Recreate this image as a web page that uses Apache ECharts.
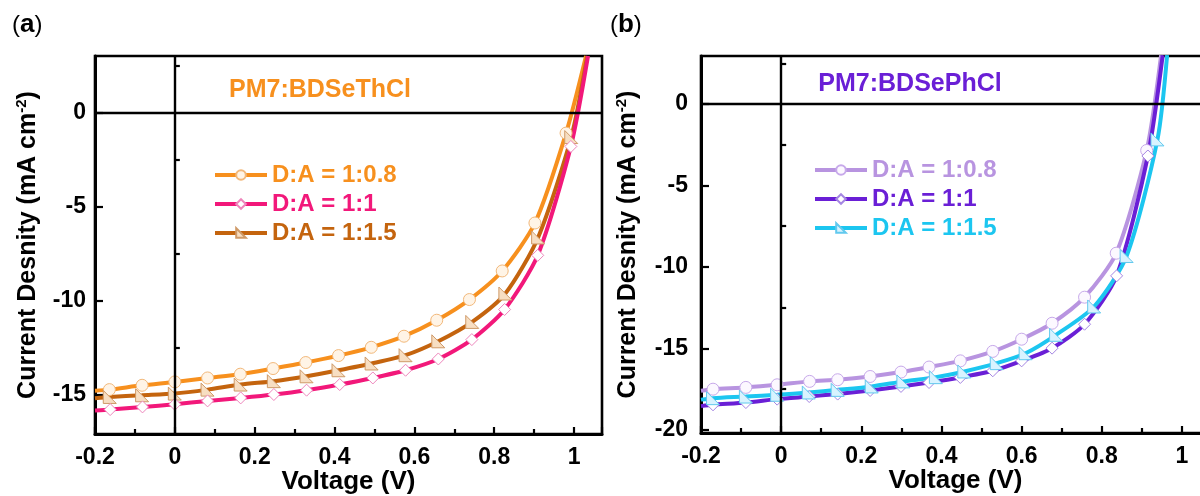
<!DOCTYPE html>
<html>
<head>
<meta charset="utf-8">
<script src="https://cdn.jsdelivr.net/npm/echarts@6/dist/echarts.min.js"></script>
<style>html,body{margin:0;padding:0;background:#fff}#c{width:1200px;height:496px}</style>
</head>
<body>
<div id="c"></div>
<script>
// ---------- data (Voltage V, Current density mA cm^-2) ----------
const legendLabels = ['D:A = 1:0.8', 'D:A = 1:1', 'D:A = 1:1.5'];
const xTickStep = 0.2;
const xTickLabels = [-0.2, 0, 0.2, 0.4, 0.6, 0.8, 1];
const yTicksA = [-15, -10, -5, 0];
const yMinorA = [-12.5, -7.5, -2.5, 2.5];
const yTicksB = [-20, -15, -10, -5, 0];
const yMinorB = [-17.5, -12.5, -7.5, -2.5, 2.5];

// panel (a) PM7:BDSeThCl  (first and last points are curve ends without markers)
const a08 = [[-0.2,-14.8],[-0.164,-14.74],[-0.082,-14.51],[0,-14.33],[0.082,-14.12],[0.164,-13.92],[0.246,-13.62],[0.328,-13.30],[0.41,-12.93],[0.492,-12.49],[0.574,-11.90],[0.656,-11.05],[0.738,-9.95],[0.82,-8.43],[0.902,-5.88],[0.98,-1.10],[1.03,3.0]];
const a10 = [[-0.2,-15.85],[-0.162,-15.80],[-0.081,-15.66],[0,-15.52],[0.082,-15.34],[0.165,-15.18],[0.248,-15.00],[0.33,-14.77],[0.413,-14.47],[0.496,-14.12],[0.578,-13.71],[0.66,-13.11],[0.744,-12.08],[0.826,-10.48],[0.909,-7.60],[0.992,-1.81],[1.035,3.0]];
const a15 = [[-0.2,-15.2],[-0.163,-15.13],[-0.082,-15.04],[0,-14.95],[0.082,-14.74],[0.165,-14.47],[0.248,-14.29],[0.33,-14.03],[0.41,-13.71],[0.493,-13.35],[0.578,-12.91],[0.66,-12.17],[0.745,-11.14],[0.828,-9.63],[0.91,-6.65],[0.993,-1.31],[1.033,3.0]];
// panel (b) PM7:BDSePhCl
const b08 = [[-0.2,-17.6],[-0.170,-17.51],[-0.088,-17.40],[-0.010,-17.24],[0.071,-17.03],[0.141,-16.93],[0.222,-16.73],[0.299,-16.46],[0.369,-16.15],[0.447,-15.77],[0.528,-15.19],[0.600,-14.44],[0.676,-13.46],[0.757,-11.86],[0.836,-9.16],[0.912,-2.85],[0.948,3.0]];
const b10 = [[-0.2,-18.55],[-0.170,-18.47],[-0.088,-18.33],[-0.010,-18.12],[0.07,-17.96],[0.141,-17.81],[0.222,-17.59],[0.299,-17.34],[0.369,-17.10],[0.447,-16.79],[0.528,-16.38],[0.600,-15.77],[0.676,-14.99],[0.757,-13.52],[0.837,-10.55],[0.915,-3.19],[0.952,3.0]];
const b15 = [[-0.2,-18.15],[-0.170,-18.06],[-0.088,-17.96],[-0.010,-17.85],[0.069,-17.71],[0.141,-17.55],[0.226,-17.34],[0.305,-17.03],[0.386,-16.77],[0.457,-16.42],[0.538,-15.91],[0.610,-15.30],[0.686,-14.17],[0.781,-12.43],[0.862,-9.33],[0.939,-2.17],[0.963,3.0]];

// ---------- styles ----------
const FONT = '"Liberation Sans", Arial, sans-serif';
const TRI = 'path://M0,0L0,10L11,10Z';
const DIA = 'diamond';

function pts(arr){
  return arr.map((p,i)=> (i===0 || i===arr.length-1) ? {value:p, symbol:'none'} : p);
}
function ser(id, data, xi, color, lw, symbol, size, fill, border, extra){
  const s = {
    id: id, name: id, type:'line', xAxisIndex:xi, yAxisIndex: xi===0 ? 0 : 2,
    data: pts(data), smooth:0.25,
    symbol: symbol, symbolSize: size, showAllSymbol:true,
    lineStyle:{color:color, width:lw},
    itemStyle:{color:fill, borderColor:border, borderWidth:1},
    emphasis:{disabled:true}, clip:true, z:3
  };
  return Object.assign(s, extra||{});
}
const zeroLines = {
  silent:true, symbol:['none','none'], label:{show:false},
  lineStyle:{color:'#000', width:2.4, type:'solid'},
  data:[{xAxis:0},{yAxis:0}]
};

const nameMap = {a08:legendLabels[0], a10:legendLabels[1], a15:legendLabels[2],
                 b08:legendLabels[0], b10:legendLabels[1], b15:legendLabels[2]};

function xAx(gi){
  return {
    type:'value', gridIndex:gi, min:-0.2, max:1.07, interval:xTickStep,
    axisLine:{onZero:false, lineStyle:{color:'#000', width:3}},
    axisTick:{inside:true, length:7, lineStyle:{color:'#000', width:2.2}},
    minorTick:{show:true, splitNumber:2, length:5, lineStyle:{color:'#000', width:2.2}},
    splitLine:{show:false}, minorSplitLine:{show:false},
    axisLabel:{customValues:xTickLabels, color:'#000', fontSize:23, fontWeight:'bold', fontFamily:FONT, margin:12},
    name:'Voltage (V)', nameLocation:'middle', nameGap:35, nameMoveOverlap:false,
    nameTextStyle:{color:'#000', fontSize:26, fontWeight:'bold', fontFamily:FONT}
  };
}
function yAx(gi, min, max, ticks, nameGap, labelMargin){
  return {
    type:'value', gridIndex:gi, min:min, max:max,
    axisLine:{onZero:false, lineStyle:{color:'#000', width:3}},
    axisTick:{inside:true, length:8, customValues:ticks, lineStyle:{color:'#000', width:2.2}},
    splitLine:{show:false},
    axisLabel:{customValues:ticks, color:'#000', fontSize:23, fontWeight:'bold', fontFamily:FONT, margin:labelMargin},
    name:'Current Desnity (mA cm{s|-2})', nameLocation:'middle', nameGap:nameGap, nameRotate:90, nameMoveOverlap:false,
    nameTextStyle:{color:'#000', fontSize:25, fontWeight:'bold', fontFamily:FONT,
      rich:{s:{fontSize:15, fontWeight:'bold', fontFamily:FONT, color:'#000', padding:[0,0,14,0]}}}
  };
}
function yMinor(gi, min, max, ticks){
  return {
    type:'value', gridIndex:gi, min:min, max:max, position:'left',
    axisLine:{show:false}, splitLine:{show:false},
    axisTick:{inside:true, length:5, customValues:ticks, lineStyle:{color:'#000', width:2.2}},
    axisLabel:{show:false}
  };
}

const option = {
  animation:false,
  backgroundColor:'#fff',
  grid:[
    {left:95, top:56, width:507, height:378, show:true, borderColor:'#000', borderWidth:2.6, backgroundColor:'transparent', outerBoundsMode:'none', containLabel:false},
    {left:701, top:56, width:509, height:377, show:true, borderColor:'#000', borderWidth:2.6, backgroundColor:'transparent', outerBoundsMode:'none', containLabel:false}
  ],
  xAxis:[xAx(0), xAx(1)],
  yAxis:[
    yAx(0, -17.1, 3.0, yTicksA, 52, 9), yMinor(0, -17.1, 3.0, yMinorA),
    yAx(1, -20.2, 2.95, yTicksB, 58, 13), yMinor(1, -20.2, 2.95, yMinorB)
  ],
  legend:[
    {left:208, top:158, orient:'vertical', itemWidth:52, itemHeight:12, itemGap:5,
     selectedMode:false, formatter:n=>nameMap[n], lineStyle:{width:4},
     textStyle:{fontSize:24, fontWeight:'bold', fontFamily:FONT, lineHeight:23},
     data:[{name:'a08', textStyle:{color:'#F7901E'}},{name:'a10', textStyle:{color:'#F2187A'}},{name:'a15', textStyle:{color:'#C4640E'}}]},
    {left:808, top:153, orient:'vertical', itemWidth:52, itemHeight:12, itemGap:5,
     selectedMode:false, formatter:n=>nameMap[n], lineStyle:{width:4},
     textStyle:{fontSize:24, fontWeight:'bold', fontFamily:FONT, lineHeight:23},
     data:[{name:'b08', textStyle:{color:'#B894E0'}},{name:'b10', textStyle:{color:'#6A1FD6'}},{name:'b15', textStyle:{color:'#1CC6F0'}}]}
  ],
  graphic:[
    {type:'text', x:12, y:12, style:{text:'({b|a})', fill:'#000', font:'24px '+FONT,
      rich:{b:{fontWeight:'bold', fontSize:26, fontFamily:FONT, fill:'#000'}}}},
    {type:'text', x:610, y:12, style:{text:'({b|b})', fill:'#000', font:'24px '+FONT,
      rich:{b:{fontWeight:'bold', fontSize:26, fontFamily:FONT, fill:'#000'}}}},
    {type:'text', x:320, y:90, style:{text:'PM7:BDSeThCl', fill:'#F7901E', font:'bold 25px '+FONT, textAlign:'center', textVerticalAlign:'middle'}},
    {type:'text', x:910, y:84, style:{text:'PM7:BDSePhCl', fill:'#6A1FD6', font:'bold 25px '+FONT, textAlign:'center', textVerticalAlign:'middle'}}
  ],
  series:[
    ser('a08', a08, 0, '#F7901E', 4, 'circle', 12, '#FFF4E6', '#F2B87A', {markLine:zeroLines}),
    ser('a15', a15, 0, '#C4640E', 4, TRI, 13, '#F7DEC2', '#CF9A68'),
    ser('a10', a10, 0, '#F2187A', 4, DIA, 12, '#FFFFFF', '#EE86BC'),
    ser('b08', b08, 1, '#B894E0', 4, 'circle', 12, '#FCF8FF', '#C7A9EA', {markLine:zeroLines}),
    ser('b10', b10, 1, '#6A1FD6', 4, DIA, 12, '#FFFFFF', '#A485E2'),
    ser('b15', b15, 1, '#1CC6F0', 4, TRI, 13, '#D8F3FF', '#62C9EE')
  ]
};

const chart = echarts.init(document.getElementById('c'), null, {renderer:'canvas'});
chart.setOption(option);
</script>
</body>
</html>
